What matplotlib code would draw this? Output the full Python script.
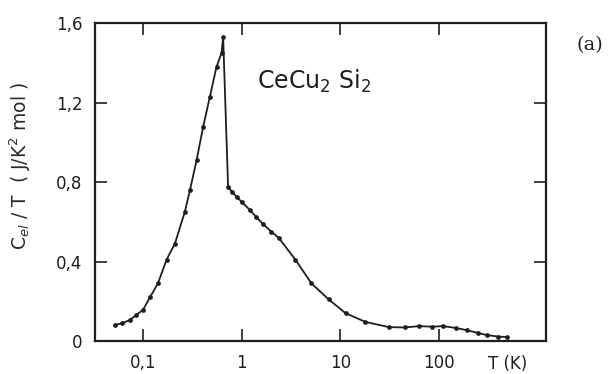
import matplotlib
matplotlib.use("Agg")
import matplotlib.pyplot as plt
from matplotlib.ticker import FixedLocator, NullLocator

# Data
T_low = [0.052, 0.062, 0.074, 0.085, 0.1, 0.118, 0.142, 0.174, 0.211, 0.266,
         0.30, 0.35, 0.408, 0.477, 0.557, 0.627, 0.65]
C_low = [0.08, 0.09, 0.106, 0.13, 0.156, 0.22, 0.29, 0.41, 0.49, 0.65,
         0.76, 0.91, 1.078, 1.229, 1.38, 1.45, 1.53]
T_high = [0.73, 0.80, 0.895, 1.0, 1.21, 1.4, 1.64, 2.0, 2.37, 3.5, 5.1, 7.6, 11.3, 18,
          31, 45, 63, 85, 110, 150, 190, 250, 305, 400, 490]
C_high = [0.775, 0.75, 0.725, 0.70, 0.66, 0.625, 0.59, 0.55, 0.52, 0.41, 0.29, 0.21,
          0.14, 0.096, 0.07, 0.068, 0.075, 0.072, 0.075, 0.065, 0.055, 0.04, 0.03,
          0.022, 0.02]

x_ticks = [0.1, 1, 10, 100]
x_labels = ["0,1", "1", "10", "100"]
y_ticks = [0, 0.4, 0.8, 1.2, 1.6]
y_labels = ["0", "0,4", "0,8", "1,2", "1,6"]

ink = "#1e1e1e"
tickfont = ["Liberation Sans Narrow", "DejaVu Sans"]

fig = plt.figure(figsize=(6.14, 3.74), dpi=100)
ax = fig.add_axes([0.1547, 0.0882, 0.7345, 0.8503])

T_all = T_low + T_high
C_all = C_low + C_high
ax.plot(T_all, C_all, color=ink, lw=1.3)
ax.plot(T_all, C_all, ls="none", marker="o", ms=2.4, color=ink)

ax.set_xscale("log")
ax.set_xlim(0.0327, 1213)
ax.set_ylim(0, 1.6)

ax.xaxis.set_major_locator(FixedLocator(x_ticks))
ax.xaxis.set_minor_locator(NullLocator())
ax.set_xticks(x_ticks)
ax.set_xticklabels(x_labels, family=tickfont, fontsize=12, color=ink)
ax.set_yticks(y_ticks)
ax.set_yticklabels(y_labels, family=tickfont, fontsize=12, color=ink)

ax.tick_params(direction="in", length=8.5, width=1.2, top=True, right=True,
               color=ink)
ax.tick_params(axis="x", pad=9)
ax.tick_params(axis="y", pad=9)
for s in ax.spines.values():
    s.set_linewidth(1.6)
    s.set_color(ink)

ax.set_ylabel(r"C$_{el}$ / T  ( J/K$^{2}$ mol )", family=tickfont, fontsize=13.5,
              color="#2a2a2a")
ax.yaxis.set_label_coords(-0.137, 0.55)

fig.text(0.827, 0.027, "T (K)", family=tickfont, fontsize=12, color=ink,
         ha="center", va="center")
ax.text(0.359, 0.815, r"CeCu$_2$ Si$_2$", transform=ax.transAxes, fontsize=17,
        color=ink, family="DejaVu Sans", va="center")
fig.text(0.961, 0.88, "(a)", family="DejaVu Serif", fontsize=14,
         color="#222222", ha="center", va="center")

fig.savefig("out.png", dpi=100)
